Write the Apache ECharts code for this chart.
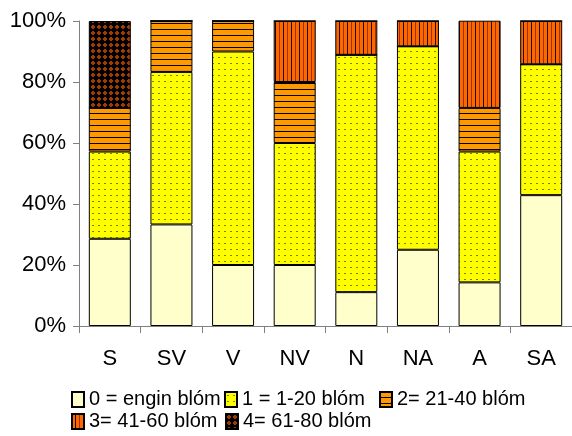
<!DOCTYPE html>
<html>
<head>
<meta charset="utf-8">
<script src="https://cdn.jsdelivr.net/npm/echarts@6/dist/echarts.min.js"></script>
<style>
  html, body { margin: 0; padding: 0; background: #fff; }
  #chart { width: 572px; height: 436px; }
</style>
</head>
<body>
<div id="chart"></div>
<script>
// Regions (x axis) and share of plants per bloom class, in percent
const categories = ['S', 'SV', 'V', 'NV', 'N', 'NA', 'A', 'SA'];
const seriesNames = ['0 = engin blóm', '1 = 1-20 blóm', '2= 21-40 blóm', '3= 41-60 blóm', '4= 61-80 blóm'];
const class0 = [28.6, 33.3, 20.0, 20.0, 11.1, 25.0, 14.3, 42.9];
const class1 = [28.6, 50.0, 70.0, 40.0, 77.8, 66.7, 42.9, 42.9];
const class2 = [14.3, 16.7, 10.0, 20.0, 0, 0, 14.3, 0];
const class3 = [0, 0, 0, 20.0, 11.1, 8.3, 28.6, 14.2];
const class4 = [28.5, 0, 0, 0, 0, 0, 0, 0];
const yTicks = [0, 20, 40, 60, 80, 100];

// Hatch fills drawn onto small repeating tiles
function tile(w, h, draw) {
  const c = document.createElement('canvas');
  c.width = w; c.height = h;
  const g = c.getContext('2d');
  draw(g);
  return { image: c, repeat: 'repeat' };
}
const fill0 = '#FFFFCC';
const fill1 = tile(6, 6, g => {
  g.fillStyle = '#FFFF00'; g.fillRect(0, 0, 6, 6);
  g.fillStyle = '#808000'; g.fillRect(2, 3, 2, 1);
});
const fill2 = tile(6, 6, g => {
  g.fillStyle = '#FF9900'; g.fillRect(0, 0, 6, 6);
  g.fillStyle = '#000000'; g.fillRect(0, 5, 6, 1);
});
const fill3 = tile(8, 8, g => {
  g.fillStyle = '#FF6600'; g.fillRect(0, 0, 8, 8);
  g.fillStyle = '#1a0800'; g.fillRect(3, 0, 1, 8);
  g.fillStyle = '#993300'; g.fillRect(7, 0, 1, 8);
});
const fill4 = tile(6, 6, g => {
  g.fillStyle = '#000000'; g.fillRect(0, 0, 6, 6);
  g.fillStyle = '#A33A00';
  g.fillRect(1, 2, 4, 2);
  g.fillRect(2, 1, 2, 4);
});

const fills = [fill0, fill1, fill2, fill3, fill4];
const values = [class0, class1, class2, class3, class4];
const FONT = '"Liberation Sans", Arial, sans-serif';

const series = values.map((vals, i) => ({
  name: seriesNames[i],
  type: 'bar',
  stack: 'total',
  barWidth: 42,
  data: vals,
  itemStyle: { color: fills[i], borderColor: '#000', borderWidth: 1 },
  emphasis: { disabled: true }
}));

// Legend entries laid out in two rows like the original key
const legendPos = [
  { left: 71, top: 389 }, { left: 224, top: 389 }, { left: 379, top: 389 },
  { left: 71, top: 411 }, { left: 225, top: 411 }
];
const legends = seriesNames.map((n, i) => ({
  data: [n],
  left: legendPos[i].left,
  top: legendPos[i].top,
  padding: 0,
  itemWidth: 12,
  itemHeight: 15,
  icon: 'rect',
  selectedMode: false,
  textStyle: { fontFamily: FONT, fontSize: 20, color: '#000', lineHeight: 21 }
}));

const chart = echarts.init(document.getElementById('chart'), null, { renderer: 'canvas' });
chart.setOption({
  animation: false,
  backgroundColor: '#fff',
  grid: { left: 79, right: -5, top: 21, bottom: 110, containLabel: false },
  legend: legends,
  xAxis: {
    type: 'category',
    data: categories,
    axisLine: { lineStyle: { color: '#808080', width: 1 } },
    axisTick: { show: true, length: 7, lineStyle: { color: '#808080' } },
    axisLabel: { fontFamily: FONT, fontSize: 22, color: '#000', margin: 22 }
  },
  yAxis: {
    type: 'value',
    min: yTicks[0],
    max: yTicks[yTicks.length - 1],
    interval: yTicks[1] - yTicks[0],
    axisLine: { show: true, lineStyle: { color: '#808080', width: 1 } },
    axisTick: { show: true, length: 6, lineStyle: { color: '#808080' } },
    splitLine: { show: false },
    axisLabel: { fontFamily: FONT, fontSize: 22, color: '#000', margin: 13, formatter: '{value}%' }
  },
  series: series
});
</script>
</body>
</html>
